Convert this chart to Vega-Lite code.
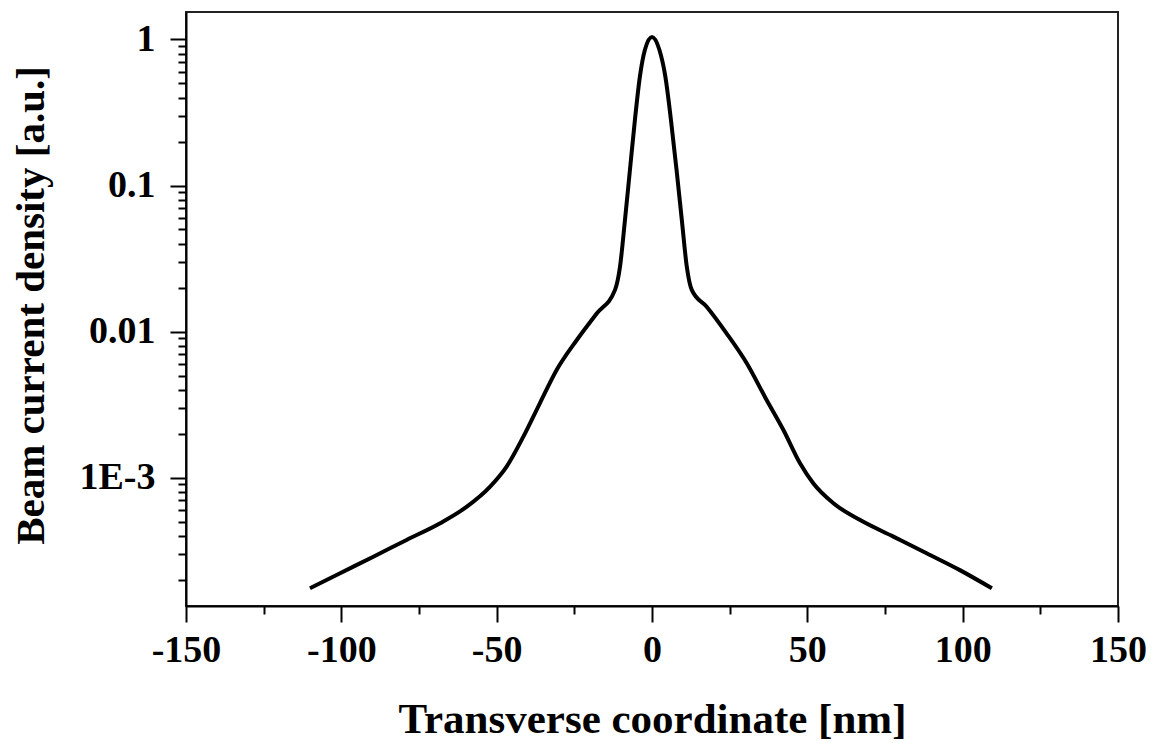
{
  "$schema": "https://vega.github.io/schema/vega-lite/v6.json",
  "autosize": "none",
  "padding": {"left": 186, "top": 12, "right": 35, "bottom": 137},
  "width": 932,
  "height": 594,
  "background": "white",
  "config": {
    "view": {"stroke": "#222222", "strokeWidth": 2},
    "font": "Liberation Serif",
    "axis": {
      "labelFont": "Liberation Serif",
      "labelFontWeight": "bold",
      "labelColor": "black",
      "titleFont": "Liberation Serif",
      "titleFontWeight": "bold",
      "titleColor": "black",
      "domainColor": "black",
      "tickColor": "black",
      "grid": false
    }
  },
  "data": {
    "values": [
      {"x": -110.1, "y": 0.000175},
      {"x": -100.4, "y": 0.000222},
      {"x": -89.7, "y": 0.000288},
      {"x": -79.0, "y": 0.000375},
      {"x": -68.2, "y": 0.000488},
      {"x": -59.6, "y": 0.000633},
      {"x": -52.1, "y": 0.000868},
      {"x": -46.8, "y": 0.00119},
      {"x": -41.4, "y": 0.00191},
      {"x": -36.1, "y": 0.00323},
      {"x": -30.7, "y": 0.00546},
      {"x": -24.2, "y": 0.00876},
      {"x": -17.8, "y": 0.0133},
      {"x": -11.9, "y": 0.0193},
      {"x": -10.3, "y": 0.0278},
      {"x": -8.7, "y": 0.0581},
      {"x": -7.1, "y": 0.128},
      {"x": -5.5, "y": 0.281},
      {"x": -3.9, "y": 0.556},
      {"x": -2.3, "y": 0.846},
      {"x": 0.0, "y": 1.04},
      {"x": 2.4, "y": 0.846},
      {"x": 4.3, "y": 0.556},
      {"x": 6.1, "y": 0.281},
      {"x": 7.9, "y": 0.128},
      {"x": 9.6, "y": 0.0581},
      {"x": 11.2, "y": 0.0278},
      {"x": 12.8, "y": 0.0193},
      {"x": 17.6, "y": 0.0148},
      {"x": 24.0, "y": 0.00973},
      {"x": 30.5, "y": 0.00607},
      {"x": 36.9, "y": 0.0034},
      {"x": 42.3, "y": 0.00212},
      {"x": 47.6, "y": 0.00126},
      {"x": 51.9, "y": 0.000916},
      {"x": 58.4, "y": 0.000668},
      {"x": 67.0, "y": 0.000513},
      {"x": 77.7, "y": 0.000395},
      {"x": 88.4, "y": 0.000304},
      {"x": 99.1, "y": 0.000233},
      {"x": 109.4, "y": 0.000175}
    ]
  },
  "layer": [
    {
      "mark": {"type": "line", "color": "black", "strokeWidth": 4, "interpolate": "monotone", "clip": true},
      "encoding": {
        "x": {
          "field": "x", "type": "quantitative",
          "scale": {"domain": [-150, 150], "nice": false, "zero": false},
          "axis": {
            "orient": "bottom",
            "values": [-150, -100, -50, 0, 50, 100, 150],
            "labelExpr": "'' + datum.value",
            "title": "Transverse coordinate [nm]",
            "titleFontSize": 43,
            "titleBaseline": "alphabetic",
            "titleY": 126,
            "titlePadding": 0,
            "labelFontSize": 38,
            "labelPadding": 9,
            "labelFlush": false,
            "labelOverlap": false,
            "tickSize": 16,
            "tickWidth": 2,
            "domainWidth": 2
          }
        },
        "y": {
          "field": "y", "type": "quantitative",
          "scale": {"type": "log", "domain": [0.0001324, 1.54], "nice": false},
          "axis": {
            "orient": "left",
            "values": [0.001, 0.01, 0.1, 1],
            "labelExpr": "datum.value == 0.001 ? '1E-3' : datum.value == 0.01 ? '0.01' : datum.value == 0.1 ? '0.1' : '1'",
            "title": "Beam current density [a.u.]",
            "titleFontSize": 41,
            "titleAngle": -90,
            "titleBaseline": "alphabetic",
            "titleAlign": "center",
            "titleX": -143,
            "titleY": 293,
            "labelFontSize": 38,
            "labelPadding": 15,
            "labelFlush": false,
            "labelOverlap": false,
            "tickSize": 16,
            "tickWidth": 2,
            "domainWidth": 2
          }
        }
      }
    },
    {
      "mark": {"type": "line", "opacity": 0},
      "encoding": {
        "x": {
          "field": "x", "type": "quantitative",
          "axis": {
            "orient": "bottom",
            "values": [-125, -75, -25, 25, 75, 125],
            "labels": false,
            "domain": false,
            "title": null,
            "tickSize": 8,
            "tickWidth": 2
          }
        },
        "y": {
          "field": "y", "type": "quantitative",
          "axis": {
            "orient": "left",
            "values": [0.0002, 0.0003, 0.0004, 0.0005, 0.0006, 0.0007, 0.0008, 0.0009, 0.002, 0.003, 0.004, 0.005, 0.006, 0.007, 0.008, 0.009, 0.02, 0.03, 0.04, 0.05, 0.06, 0.07, 0.08, 0.09, 0.2, 0.3, 0.4, 0.5, 0.6, 0.7, 0.8, 0.9],
            "labels": false,
            "domain": false,
            "title": null,
            "tickSize": 8,
            "tickWidth": 2
          }
        }
      }
    }
  ],
  "resolve": {"axis": {"x": "independent", "y": "independent"}}
}
